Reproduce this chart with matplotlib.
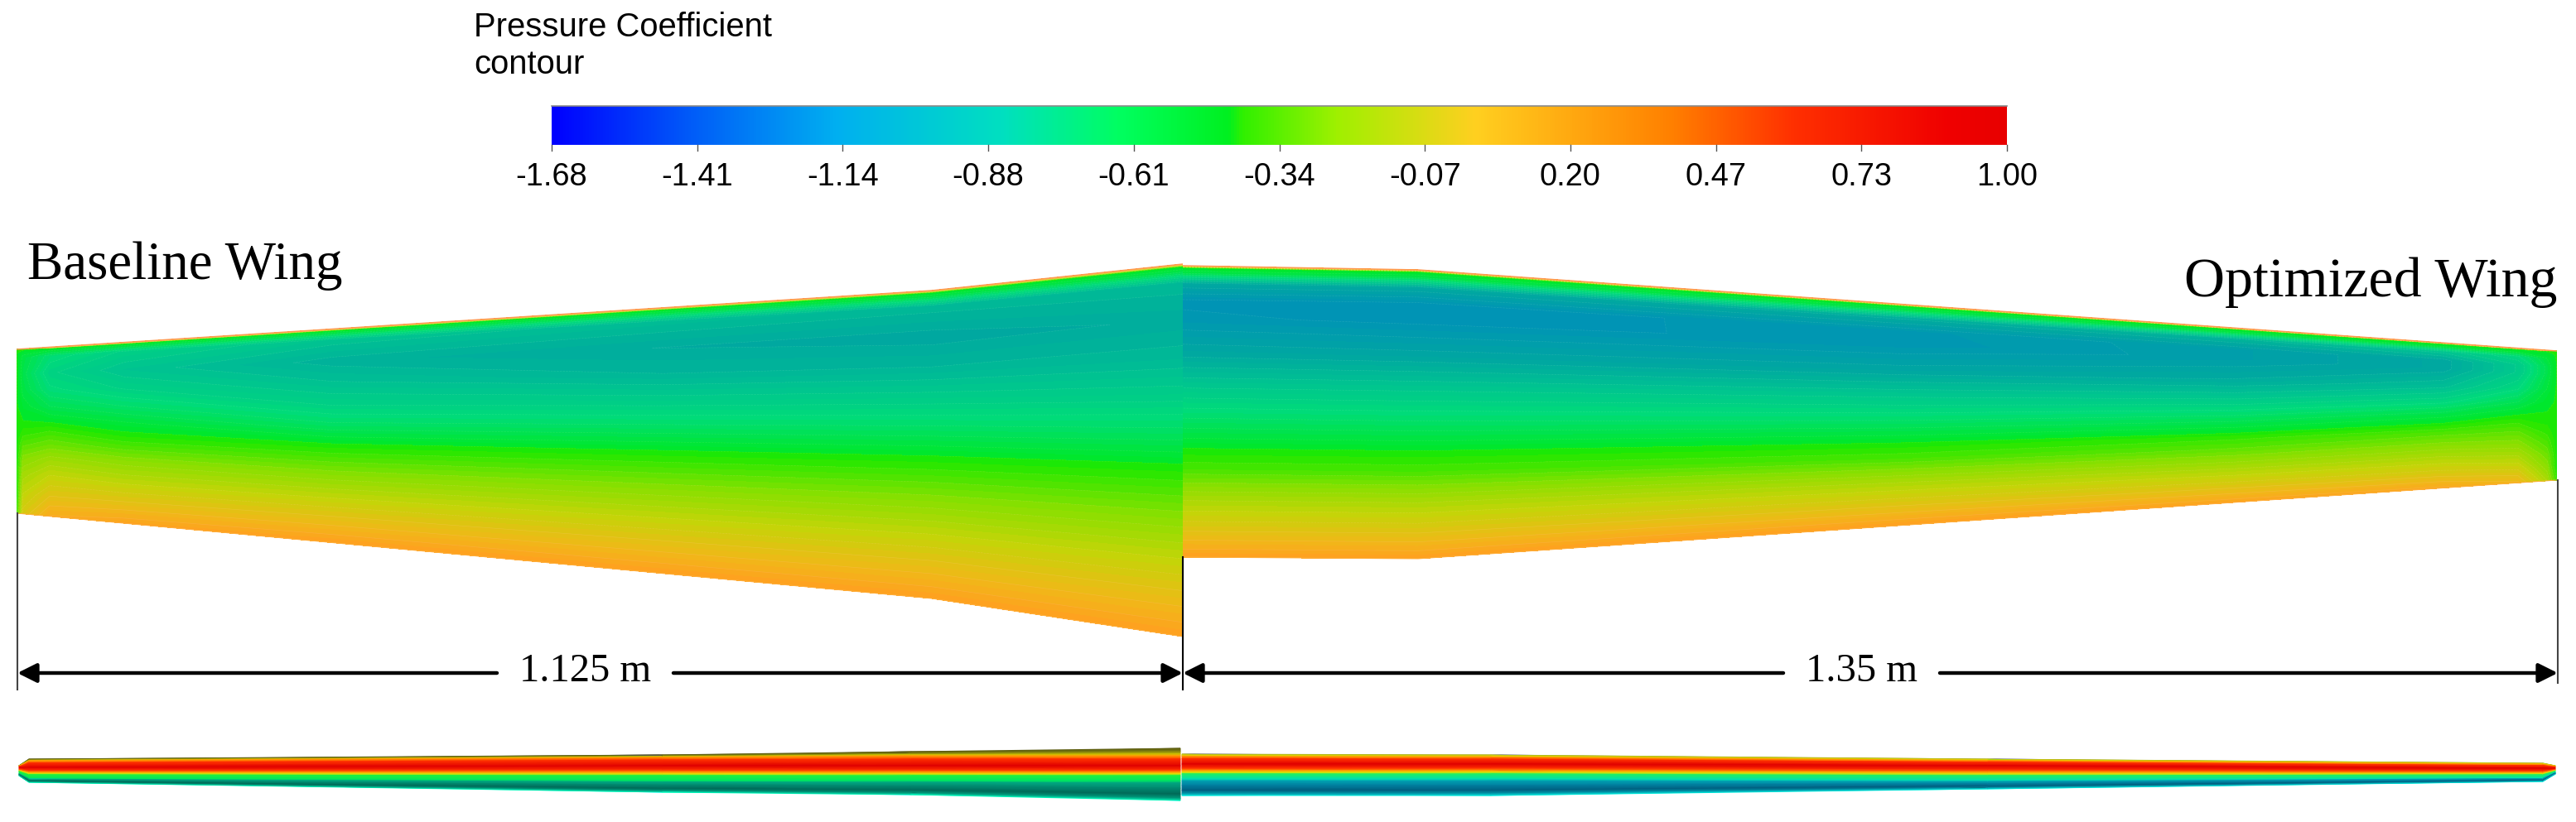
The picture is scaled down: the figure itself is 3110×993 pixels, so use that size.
import numpy as np
import matplotlib
matplotlib.use('Agg')
import matplotlib.pyplot as plt
from matplotlib.colors import LinearSegmentedColormap

# colour bar
cb_ticks = [-1.68, -1.41, -1.14, -0.88, -0.61, -0.34, -0.07, 0.20, 0.47, 0.73, 1.00]
cb_stops = [0.0, 0.1, 0.196, 0.31, 0.39, 0.465, 0.475, 0.54, 0.635, 0.77, 0.854, 0.96, 1.0]
cb_colors = ['#0000ff', '#0060f8', '#00b0f0', '#00e0c0', '#00ff60', '#00f020', '#30f000',
             '#a0f000', '#ffd020', '#ff8000', '#ff3000', '#f00000', '#e80000']

# surface colours are a bit darker than the bar (shading)
wing_stops = [0.0, 0.2, 0.27, 0.33, 0.39, 0.465, 0.475, 0.54, 0.60, 0.66, 0.70, 0.8, 1.0]
wing_colors = ['#0000c0', '#0092b8', '#00a8a0', '#00c490', '#00dc78', '#00e82a', '#20e800',
               '#88e000', '#c4d408', '#f0b818', '#ffa020', '#ff6000', '#e00000']

# outline of the planforms, pixels of the page
base_top_x = [20, 1125, 1428]
base_top_y = [422, 351, 319]
base_bot_x = [20, 1125, 1428]
base_bot_y = [620, 723, 769]
opt_top_x = [1428, 1712, 3087]
opt_top_y = [321, 326, 424]
opt_bot_x = [1428, 1712, 3087]
opt_bot_y = [673, 675, 580]

# Cp read by colour, rows are span stations, columns chord fractions
base_span = [20, 28, 60, 150, 400, 800, 1125, 1428]
base_chord = [0, .006, .02, .05, .15, .25, .35, .45, .54, .58, .66, .76, .88, 1]
base_cp = [
    [-.42, -.42, -.42, -.42, -.42, -.42, -.42, -.42, -.42, -.42, -.42, -.42, -.42, -.38],
    [-.40, -.42, -.46, -.50, -.52, -.50, -.46, -.42, -.36, -.32, -.24, -.16, -.08, .00],
    [.196, -.42, -.48, -.62, -.70, -.64, -.54, -.42, -.32, -.28, -.18, -.08, .03, .15],
    [.196, -.42, -.50, -.72, -.80, -.72, -.60, -.47, -.38, -.33, -.22, -.11, .03, .18],
    [.196, -.42, -.52, -.80, -.90, -.82, -.72, -.58, -.42, -.37, -.26, -.125, .035, .196],
    [.196, -.42, -.52, -.84, -.94, -.88, -.74, -.58, -.42, -.37, -.26, -.125, .035, .196],
    [.196, -.42, -.52, -.86, -.96, -.88, -.74, -.58, -.42, -.37, -.26, -.125, .035, .196],
    [.196, -.42, -.52, -.86, -.93, -.86, -.74, -.58, -.42, -.37, -.26, -.125, .035, .196],
]

opt_span = [1428, 1712, 2300, 2700, 2950, 3040, 3075, 3087]
opt_chord = [0, .006, .025, .06, .12, .18, .3, .4, .5, .63, .7, .8, .9, 1]
opt_cp = [
    [.196, -.42, -.52, -.95, -1.12, -1.10, -.96, -.80, -.635, -.42, -.34, -.15, .01, .196],
    [.196, -.42, -.52, -.95, -1.13, -1.12, -.97, -.80, -.635, -.42, -.34, -.15, .01, .196],
    [.196, -.42, -.52, -.92, -1.09, -1.10, -.97, -.80, -.64, -.42, -.34, -.15, .01, .196],
    [.196, -.42, -.50, -.88, -1.03, -1.03, -.93, -.78, -.60, -.38, -.30, -.15, .00, .18],
    [.196, -.42, -.48, -.80, -.96, -.96, -.84, -.68, -.50, -.32, -.24, -.12, .00, .16],
    [.196, -.42, -.46, -.66, -.76, -.76, -.66, -.54, -.42, -.30, -.24, -.14, -.03, .10],
    [.10, -.42, -.44, -.48, -.52, -.52, -.48, -.44, -.42, -.38, -.34, -.28, -.22, -.14],
    [-.42, -.42, -.42, -.42, -.42, -.42, -.42, -.42, -.42, -.42, -.42, -.42, -.42, -.38],
]

# side view stations
side_base_x = [23, 35, 800, 1100, 1425]
side_base_top = [925, 917, 912, 908, 904]
side_base_mid = [927, 927, 925, 925, 925]
side_base_bot = [937, 945, 957, 960, 967]
side_opt_x = [1427, 1800, 2400, 3070, 3085]
side_opt_top = [911, 912, 917, 922, 925]
side_opt_mid = [923, 923, 925, 928, 928]
side_opt_bot = [961, 961, 953, 944, 935]
# stripes: outer ones are shares of the room left, the core has a fixed width in pixels
side_up_share = [1, .6, .25]
side_core_off = [-12, -8, 0, 5, 8, 10, 12, 18]
side_down_share = [.12, .38, .68, .9, 1]
side_base_colors = ['#5a5a10', '#808010', '#c8c000', '#ffa000', '#ff3000', '#e00000', '#ff3000', '#ffa000',
                    '#e8e000', '#20f040', '#00e860', '#00a880', '#008a70', '#006a58', '#00a080', '#00ffc0']
side_opt_colors = ['#b0b020', '#c8c810', '#e0d800', '#ffa000', '#ff3000', '#e00000', '#ff3000', '#ffa000',
                   '#e8e000', '#20f060', '#00e0b0', '#00a0b0', '#0080a0', '#005f80', '#00a0b0', '#00f0e0']

cb_cmap = LinearSegmentedColormap.from_list('cb', list(zip(cb_stops, cb_colors)), N=512)
wing_cmap = LinearSegmentedColormap.from_list('wing', list(zip(wing_stops, wing_colors)), N=512)
levels = np.linspace(-1.68, 1.0, 95)


def draw_wing(ax, span, chord, cp, top_x, top_y, bot_x, bot_y):
    span = np.array(span)
    top = np.interp(span, top_x, top_y)
    bot = np.interp(span, bot_x, bot_y)
    frac = np.array(chord)
    X = np.tile(span[:, None], (1, len(frac)))
    Y = top[:, None] + (bot - top)[:, None] * frac[None, :]
    ax.contourf(X, Y, np.array(cp), levels=levels, cmap=wing_cmap, vmin=-1.68, vmax=1.0, antialiased=False)
    # the faint pale isolines of the CFD plot
    ax.contour(X, Y, np.array(cp), levels=levels[::2], colors='white', linewidths=0.5, alpha=0.10)
    ax.plot(top_x, top_y, color='#ff9a50', lw=1.1, solid_capstyle='butt')
    ax.plot(bot_x, bot_y, color='#ffb040', lw=0.7, solid_capstyle='butt')


def draw_side(ax, xs, tops, mids, bots, colors):
    rows = []
    for t, m, b in zip(tops, mids, bots):
        room_up = min(1.0, (m - t) / 15)
        room_down = min(1.0, (b - m) / 24)
        core = [o * room_up if o < 0 else o * room_down for o in side_core_off]
        core_t = m + core[0]
        core_b = m + core[-1]
        row = [core_t - (core_t - t) * s for s in side_up_share]
        row += [m + o for o in core]
        row += [core_b + (b - core_b) * s for s in side_down_share]
        rows.append(row)
    Y = np.array(rows)
    X = np.tile(np.array(xs)[:, None], (1, Y.shape[1]))
    Z = np.tile(np.arange(Y.shape[1]), (len(xs), 1))
    cmap = LinearSegmentedColormap.from_list('side', colors, N=512)
    ax.pcolormesh(X, Y, Z, cmap=cmap, vmin=0, vmax=Y.shape[1] - 1, shading='gouraud')


def dim_arrow(ax, x_from, x_to, y):
    ax.annotate('', xy=(x_to, y), xytext=(x_from, y),
                arrowprops=dict(arrowstyle='-|>,head_length=14,head_width=7', mutation_scale=1,
                                lw=3.2, color='black', shrinkA=0, shrinkB=0))


fig = plt.figure(figsize=(31.10, 9.93), dpi=100)
ax = fig.add_axes([0, 0, 1, 1])
ax.set_xlim(0, 3110)
ax.set_ylim(993, 0)
ax.axis('off')

# colour bar, drawn on the page coordinates
bar = np.linspace(0, 1, 512)[None, :]
ax.imshow(bar, cmap=cb_cmap, extent=(666, 2423, 175, 128), aspect='auto', vmin=0, vmax=1, zorder=2)
ax.plot([666, 2423], [128, 128], color='#8a8a8a', lw=1.2, zorder=3)
ax.set_xlim(0, 3110)
ax.set_ylim(993, 0)
for i, v in enumerate(cb_ticks):
    tx = 666 + (2423 - 666) * i / (len(cb_ticks) - 1)
    ax.plot([tx, tx], [175, 182], color='#555555', lw=1)
    ax.text(tx, 214, f'{v:.2f}', ha='center', va='center', fontsize=27.4,
            family='Liberation Sans', color='black')
ax.text(572, 33, 'Pressure Coefficient', ha='left', va='center', fontsize=28.8,
        family='Liberation Sans', color='black')
ax.text(572, 78, 'contour', ha='left', va='center', fontsize=28.8,
        family='Liberation Sans', color='black')

draw_wing(ax, base_span, base_chord, base_cp, base_top_x, base_top_y, base_bot_x, base_bot_y)
draw_wing(ax, opt_span, opt_chord, opt_cp, opt_top_x, opt_top_y, opt_bot_x, opt_bot_y)

ax.text(33, 337, 'Baseline Wing', ha='left', va='baseline', fontsize=46.8,
        family='Liberation Serif', color='black')
ax.text(3087, 358, 'Optimized Wing', ha='right', va='baseline', fontsize=49,
        family='Liberation Serif', color='black')

# dimension lines
ax.plot([21, 21], [620, 833], color='#444444', lw=1.5)
ax.plot([1428, 1428], [673, 833], color='black', lw=1.5)
ax.plot([3088, 3088], [580, 825], color='#444444', lw=1.5)
dim_arrow(ax, 600, 21, 813)
dim_arrow(ax, 813, 1428, 813)
dim_arrow(ax, 2153, 1428, 813)
dim_arrow(ax, 2342, 3088, 813)
ax.text(707, 823, '1.125 m', ha='center', va='baseline', fontsize=35,
        family='Liberation Serif', color='black')
ax.text(2247, 823, '1.35 m', ha='center', va='baseline', fontsize=35,
        family='Liberation Serif', color='black')

draw_side(ax, side_base_x, side_base_top, side_base_mid, side_base_bot, side_base_colors)
draw_side(ax, side_opt_x, side_opt_top, side_opt_mid, side_opt_bot, side_opt_colors)

fig.savefig('out.png', dpi=100, facecolor='white')
